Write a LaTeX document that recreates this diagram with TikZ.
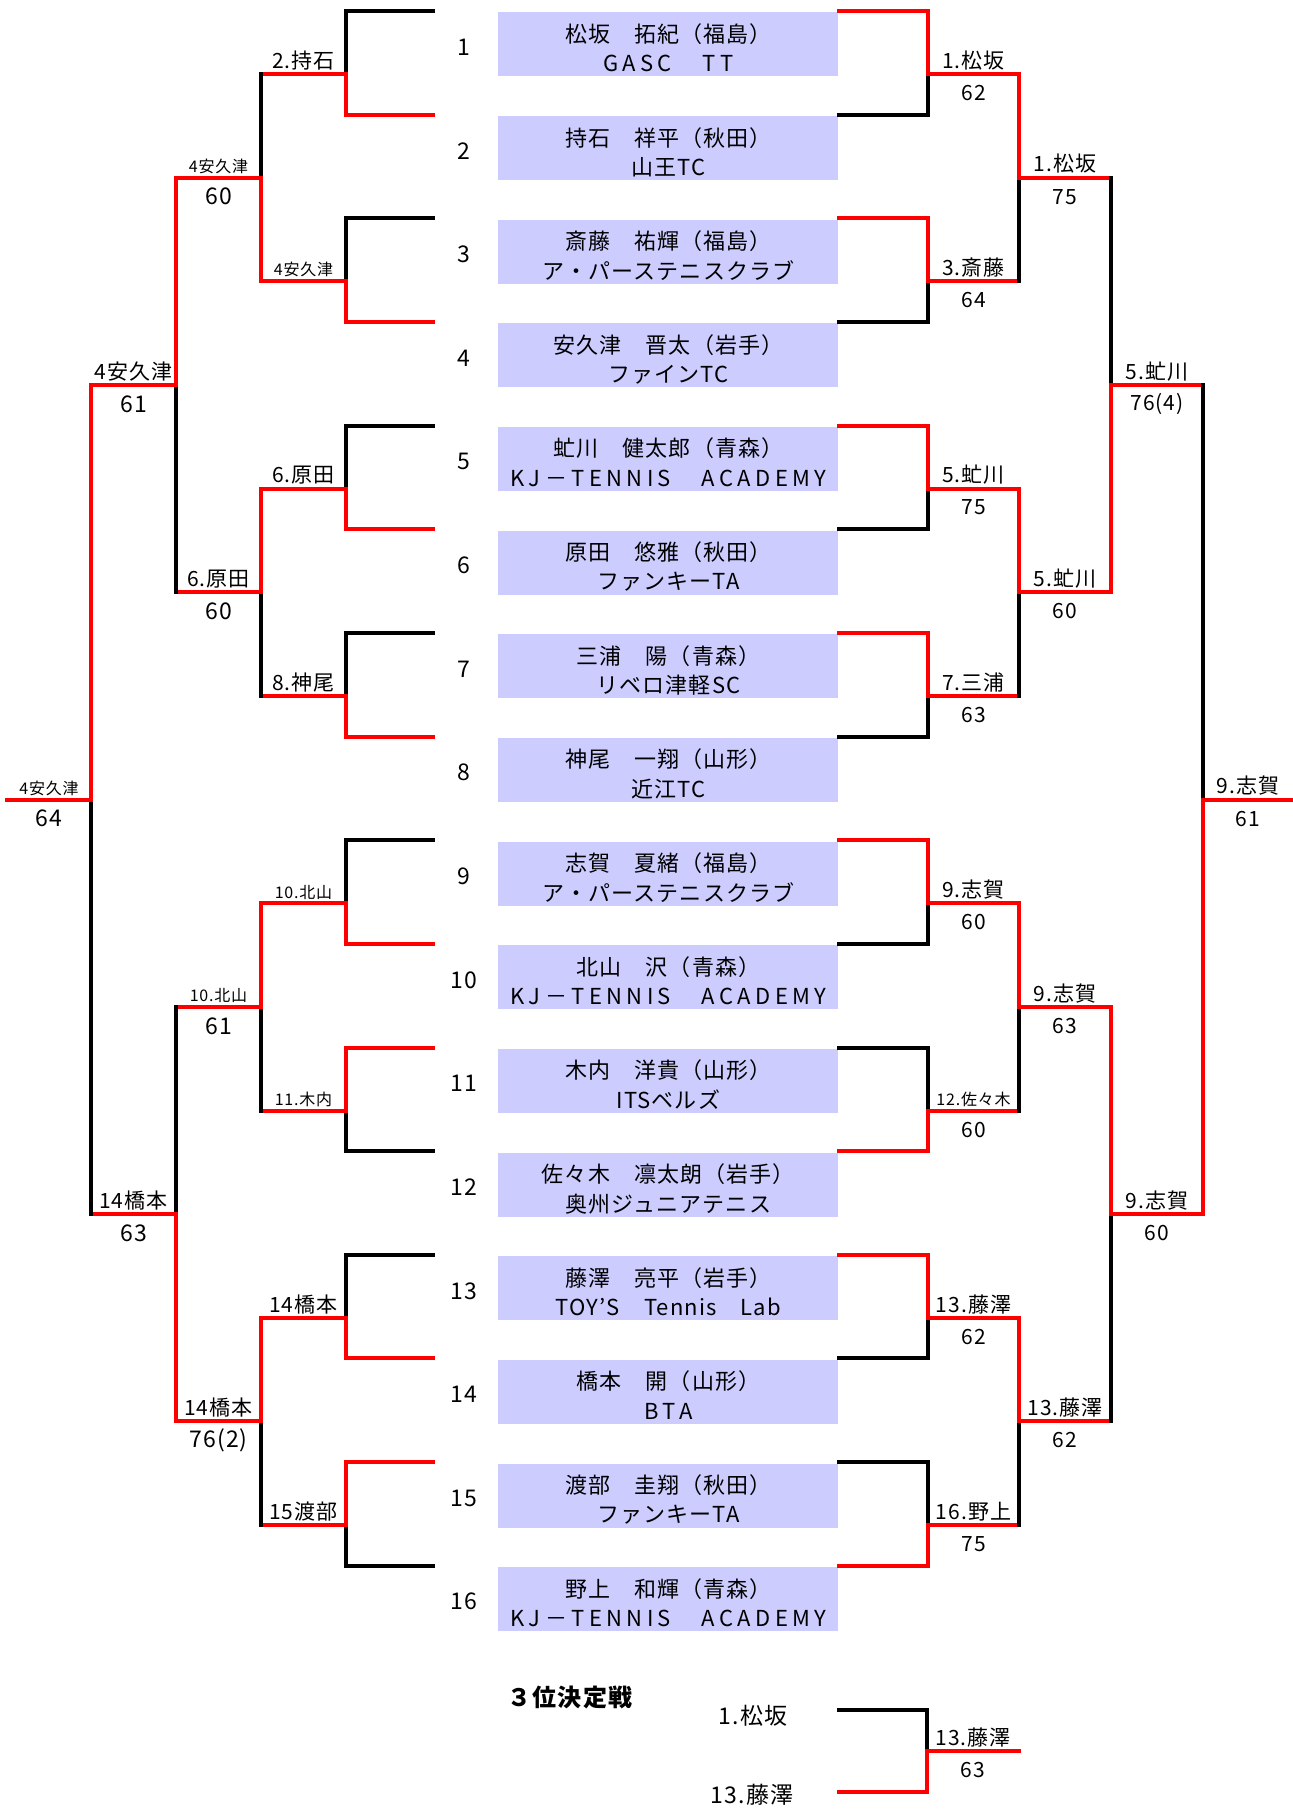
\documentclass[tikz,border=0pt]{standalone}
\usepackage{fontspec}
\usepackage{tikz}
\setmainfont{Noto Sans CJK JP}[LetterSpace=5]
\definecolor{winred}{RGB}{255,0,0}
\definecolor{platefill}{RGB}{204,204,255}
\newcommand{\wide}[1]{{\addfontfeature{LetterSpace=20}#1}}

\tikzset{
  bline/.style={line width=2pt,line cap=rect},
  wline/.style={bline,draw=winred},
  lline/.style={bline,draw=black},
  plate/.style={fill=platefill,minimum width=170pt,minimum height=32pt,inner sep=0pt,anchor=north west},
  pname/.style={font=\fontsize{11}{13}\selectfont,inner sep=0pt},
  seed/.style={font=\fontsize{11.5}{13}\selectfont,inner sep=0pt},
  who/.style={font=\fontsize{10.5}{12}\selectfont,inner sep=0pt,anchor=south,yshift=1pt,text=black},
  whos/.style={who,font=\fontsize{8}{9}\selectfont},
  score/.style={font=\fontsize{10.5}{12}\selectfont,inner sep=0pt,yshift=-9.5pt,text=black},
  ttl/.style={font=\fontsize{12}{14}\selectfont\bfseries,inner sep=0pt},
  tp/.style={font=\fontsize{11.5}{13}\selectfont,inner sep=0pt},
}

\newcommand{\bout}[7]{%
  \if#4t
    \draw[wline] (#1) -- (#1 |- #3);
    \draw[lline] (#2) -- (#2 |- #3);
  \else
    \draw[lline] (#1) -- (#1 |- #3);
    \draw[wline] (#2) -- (#2 |- #3);
  \fi
  \draw[wline] (#1 |- #3) -- (#3) node[midway,#5] {#6};
  \if\relax\detokenize{#7}\relax\else
    \path (#1 |- #3) -- (#3) node[midway,score] {#7};
  \fi
}

\begin{document}
\begin{tikzpicture}[x=0.5pt,y=-0.5pt]
\useasboundingbox (0,0) rectangle (1293,1811);

\foreach \k/\lc/\rc/\nm/\club in {
  1/lline/wline/松坂　拓紀（福島）/\wide{GASC　TT},
  2/wline/lline/持石　祥平（秋田）/山王TC,
  3/lline/wline/斎藤　祐輝（福島）/ア・パーステニスクラブ,
  4/wline/lline/安久津　晋太（岩手）/ファインTC,
  5/lline/wline/虻川　健太郎（青森）/\wide{KJ－TENNIS　ACADEMY},
  6/wline/lline/原田　悠雅（秋田）/ファンキーTA,
  7/lline/wline/三浦　陽（青森）/リベロ津軽SC,
  8/wline/lline/神尾　一翔（山形）/近江TC,
  9/lline/wline/志賀　夏緒（福島）/ア・パーステニスクラブ,
  10/wline/lline/北山　沢（青森）/\wide{KJ－TENNIS　ACADEMY},
  11/wline/lline/木内　洋貴（山形）/ITSベルズ,
  12/lline/wline/佐々木　凛太朗（岩手）/奥州ジュニアテニス,
  13/lline/wline/藤澤　亮平（岩手）/TOY’S　Tennis　Lab,
  14/wline/lline/橋本　開（山形）/\wide{BTA},
  15/wline/lline/渡部　圭翔（秋田）/ファンキーTA,
  16/lline/wline/野上　和輝（青森）/\wide{KJ－TENNIS　ACADEMY}}{
  \pgfmathsetmacro\yy{11+(\k-1)*103.65}
  \node[plate] (b\k) at (498,\yy+1) {};
  \node[pname] (nm\k) at ([yshift=-11pt]b\k.north) {\nm};
  \node[pname] (cl\k) at ([yshift=-25.75pt]b\k.north) {\club};
  \node[seed] (s\k) at (464,\yy+36) {\k};
  \coordinate (Ls\k) at (433,\yy);
  \coordinate (La\k) at (346,\yy);
  \coordinate (Ra\k) at (928,\yy);
  \draw[\lc] (Ls\k) -- (La\k);
  \draw[\rc] (b\k.east |- Ra\k) -- (Ra\k);
}

\foreach \m in {1,...,8}{
  \pgfmathsetmacro\yy{74+(\m-1)*207.3}
  \coordinate (Lb\m) at (261,\yy);
  \coordinate (Rb\m) at (1019,\yy);
}
\foreach \m in {1,...,4}{
  \pgfmathsetmacro\yy{177.65+(\m-1)*414.6}
  \coordinate (Lc\m) at (176,\yy);
  \coordinate (Rc\m) at (1111,\yy);
}
\foreach \m in {1,2}{
  \pgfmathsetmacro\yy{384.95+(\m-1)*829.2}
  \coordinate (Ld\m) at (91,\yy);
  \coordinate (Rd\m) at (1203,\yy);
}
\coordinate (Le1) at (7,799.55);
\coordinate (Re1) at (1293,799.55);

\begin{scope}[score/.append style={font=\fontsize{11.5}{13}\selectfont}]
\bout{La1}{La2}{Lb1}{b}{who}{2.持石}{}
\bout{La3}{La4}{Lb2}{b}{whos}{4安久津}{}
\bout{La5}{La6}{Lb3}{b}{who}{6.原田}{}
\bout{La7}{La8}{Lb4}{b}{who}{8.神尾}{}
\bout{La9}{La10}{Lb5}{b}{whos}{10.北山}{}
\bout{La11}{La12}{Lb6}{t}{whos}{11.木内}{}
\bout{La13}{La14}{Lb7}{b}{who}{14橋本}{}
\bout{La15}{La16}{Lb8}{t}{who}{15渡部}{}
\bout{Lb1}{Lb2}{Lc1}{b}{whos}{4安久津}{60}
\bout{Lb3}{Lb4}{Lc2}{t}{who}{6.原田}{60}
\bout{Lb5}{Lb6}{Lc3}{t}{whos}{10.北山}{61}
\bout{Lb7}{Lb8}{Lc4}{t}{who}{14橋本}{76(2)}
\bout{Lc1}{Lc2}{Ld1}{t}{who}{4安久津}{61}
\bout{Lc3}{Lc4}{Ld2}{b}{who}{14橋本}{63}
\bout{Ld1}{Ld2}{Le1}{t}{whos}{4安久津}{64}
\end{scope}

\bout{Ra1}{Ra2}{Rb1}{t}{who}{1.松坂}{62}
\bout{Ra3}{Ra4}{Rb2}{t}{who}{3.斎藤}{64}
\bout{Ra5}{Ra6}{Rb3}{t}{who}{5.虻川}{75}
\bout{Ra7}{Ra8}{Rb4}{t}{who}{7.三浦}{63}
\bout{Ra9}{Ra10}{Rb5}{t}{who}{9.志賀}{60}
\bout{Ra11}{Ra12}{Rb6}{b}{whos}{12.佐々木}{60}
\bout{Ra13}{Ra14}{Rb7}{t}{who}{13.藤澤}{62}
\bout{Ra15}{Ra16}{Rb8}{b}{who}{16.野上}{75}
\bout{Rb1}{Rb2}{Rc1}{t}{who}{1.松坂}{75}
\bout{Rb3}{Rb4}{Rc2}{t}{who}{5.虻川}{60}
\bout{Rb5}{Rb6}{Rc3}{t}{who}{9.志賀}{63}
\bout{Rb7}{Rb8}{Rc4}{t}{who}{13.藤澤}{62}
\bout{Rc1}{Rc2}{Rd1}{b}{who}{5.虻川}{76(4)}
\bout{Rc3}{Rc4}{Rd2}{t}{who}{9.志賀}{60}
\bout{Rd1}{Rd2}{Re1}{b}{who}{9.志賀}{61}

\node[ttl] (ttl) at (570,1697) {３位決定戦};
\node[tp] (p1) at (753,1716) {1.松坂};
\node[tp] (p2) at (752,1795) {13.藤澤};
\coordinate (Ta1) at (927,1710);
\coordinate (Ta2) at (927,1792);
\coordinate (Tb) at (1019,1751);
\draw[lline] (b16.east |- Ta1) -- (Ta1);
\draw[wline] (b16.east |- Ta2) -- (Ta2);
\bout{Ta1}{Ta2}{Tb}{b}{who}{13.藤澤}{63}
\end{tikzpicture}
\end{document}
